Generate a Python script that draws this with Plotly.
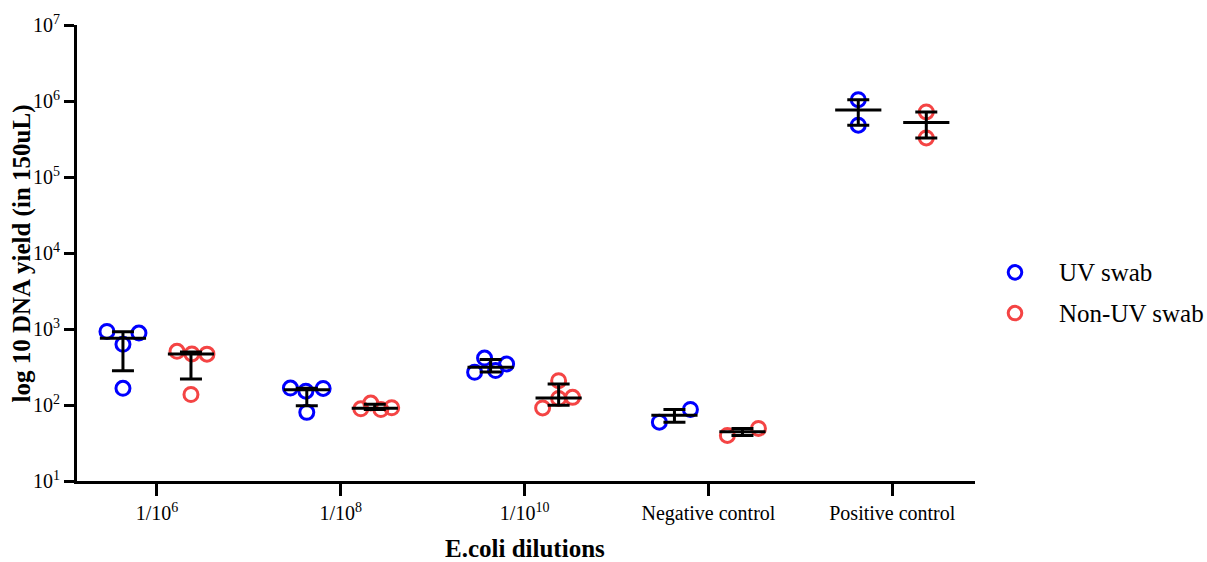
import plotly.graph_objects as go

# Dilution categories (x axis)
categories = ["1/10<sup>6</sup>", "1/10<sup>8</sup>", "1/10<sup>10</sup>",
              "Negative control", "Positive control"]

# DNA yield per replicate (copies in 150 uL)
uv_values = [
    [929, 628, 166, 883],
    [167, 152, 80, 165],
    [269, 415, 284, 346],
    [59.4, 87.3],
    [1.04e6, 4.8e5],
]
nonuv_values = [
    [508, 470, 137.5, 467],
    [89, 106, 87, 92],
    [91.6, 209, 122, 126],
    [39.8, 49.2],
    [7.18e5, 3.27e5],
]

# horizontal scatter of replicates within each group (category units)
uv_jitter = [
    [-0.087, 0.0, 0.0, 0.087],
    [-0.089, -0.005, 0.0, 0.089],
    [-0.087, -0.033, 0.027, 0.087],
    [-0.082, 0.087],
    [0.0, 0.0],
]
nonuv_jitter = [
    [-0.076, 0.005, 0.0, 0.087],
    [-0.076, -0.022, 0.033, 0.092],
    [-0.087, 0.0, 0.0, 0.076],
    [-0.082, 0.087],
    [0.0, 0.0],
]

group_names = ["UV swab", "Non-UV swab"]
group_offset = {"UV swab": -0.185, "Non-UV swab": 0.185}
group_color = {"UV swab": "#0000FF", "Non-UV swab": "#F44444"}
FONT = "Liberation Serif, Times New Roman, serif"

# plot-area geometry in pixels (used to place the key beside the axes)
W, H = 1207, 562
ML, MR, MT, MB = 77, 232, 22, 81
PW, PH = W - ML - MR, H - MT - MB


def percentile(vals, p):
    """Percentile with rank p*(n+1), clipped to the data range."""
    s = sorted(vals)
    n = len(s)
    rank = p * (n + 1)
    if rank <= 1:
        return s[0]
    if rank >= n:
        return s[-1]
    lo = int(rank) - 1
    frac = rank - int(rank)
    return s[lo] + frac * (s[lo + 1] - s[lo])


def px_to_paper(x, y):
    return (x - ML) / PW, (H - MB - y) / PH


fig = go.Figure()

groups = [("UV swab", uv_values, uv_jitter), ("Non-UV swab", nonuv_values, nonuv_jitter)]

# replicate points
for name, values, jitter in groups:
    xs, ys = [], []
    for i, (vals, jit) in enumerate(zip(values, jitter)):
        for v, j in zip(vals, jit):
            xs.append(i + group_offset[name] + j)
            ys.append(v)
    fig.add_trace(go.Scatter(
        x=xs, y=ys, mode="markers", name=name, showlegend=False,
        marker=dict(symbol="circle-open", size=14, color=group_color[name],
                    line=dict(width=3, color=group_color[name])),
    ))

# median with interquartile range
for name, values, jitter in groups:
    mx, my, up, down = [], [], [], []
    for i, vals in enumerate(values):
        med = percentile(vals, 0.5)
        q1 = percentile(vals, 0.25)
        q3 = percentile(vals, 0.75)
        mx.append(i + group_offset[name])
        my.append(med)
        up.append(q3 - med)
        down.append(med - q1)
    fig.add_trace(go.Scatter(
        x=mx, y=my, mode="markers", showlegend=False, hoverinfo="skip",
        marker=dict(symbol="line-ew", size=33, color="black",
                    line=dict(width=3, color="black")),
        error_y=dict(type="data", array=up, arrayminus=down, symmetric=False,
                     color="black", thickness=3, width=11),
    ))

# key to the right of the axes
shapes, annotations = [], []
key_x, key_text_x, key_y0, key_dy, r = 1015, 1057, 271, 41, 6.8
for k, name in enumerate(group_names):
    cy = key_y0 + k * key_dy
    x0, y0 = px_to_paper(key_x - r, cy + r)
    x1, y1 = px_to_paper(key_x + r, cy - r)
    shapes.append(dict(type="circle", xref="paper", yref="paper",
                       x0=x0, y0=y0, x1=x1, y1=y1,
                       line=dict(color=group_color[name], width=3)))
    tx, ty = px_to_paper(key_text_x, cy)
    annotations.append(dict(text=name, xref="paper", yref="paper", x=tx, y=ty,
                            xanchor="left", yanchor="middle", showarrow=False,
                            font=dict(family=FONT, size=25, color="black")))

# axis titles
yt_x, yt_y = px_to_paper(22, 252)
xt_x, xt_y = px_to_paper(525, 549)
annotations += [
    dict(text="<b>log 10 DNA yield (in 150uL)</b>", xref="paper", yref="paper",
         x=yt_x, y=yt_y, xanchor="center", yanchor="middle", textangle=-90,
         showarrow=False, font=dict(family=FONT, size=25, color="black")),
    dict(text="<b>E.coli dilutions</b>", xref="paper", yref="paper",
         x=xt_x, y=xt_y, xanchor="center", yanchor="middle",
         showarrow=False, font=dict(family=FONT, size=25, color="black")),
]

fig.update_layout(
    width=W, height=H,
    margin=dict(l=ML, r=MR, t=MT, b=MB),
    paper_bgcolor="white", plot_bgcolor="white",
    font=dict(family=FONT, size=20, color="black"),
    showlegend=False,
    xaxis=dict(
        range=[-0.435, 4.45], tickmode="array", tickvals=list(range(len(categories))),
        ticktext=categories, showgrid=False, zeroline=False,
        showline=True, linecolor="black", linewidth=3,
        ticks="outside", ticklen=12, tickwidth=3, tickcolor="black",
        tickfont=dict(family=FONT, size=20, color="black"),
    ),
    yaxis=dict(
        type="log", range=[1, 7], tickmode="array",
        tickvals=[10 ** k for k in range(1, 8)],
        ticktext=["10<sup>%d</sup>" % k for k in range(1, 8)],
        showgrid=False, zeroline=False,
        showline=True, linecolor="black", linewidth=3,
        ticks="outside", ticklen=10, tickwidth=3, tickcolor="black",
        tickfont=dict(family=FONT, size=20, color="black"),
    ),
    shapes=shapes,
    annotations=annotations,
)

fig.write_html("out.html")
